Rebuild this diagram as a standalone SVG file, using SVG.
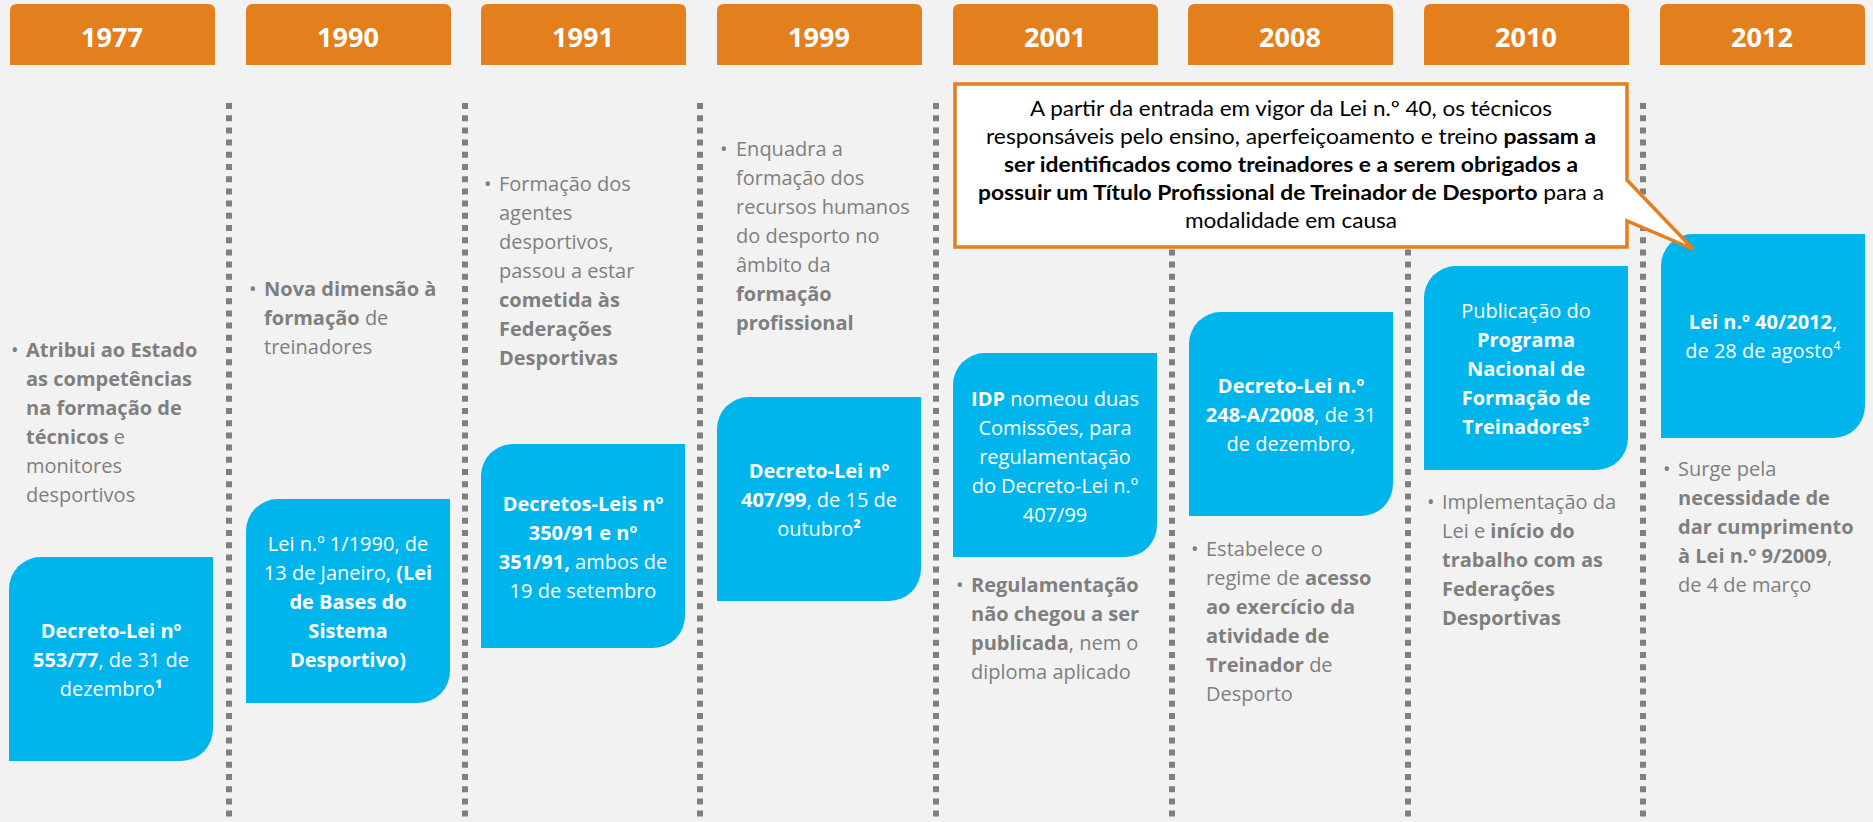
<svg xmlns="http://www.w3.org/2000/svg" xmlns:xlink="http://www.w3.org/1999/xlink" width="1873" height="822" viewBox="0 0 1873 822">
<style>
.yr{font-family:"Open Sans","Noto Sans",sans-serif;font-weight:bold;font-size:27px;fill:#ffffff;text-anchor:middle}
.bt{font-family:"Open Sans","Noto Sans",sans-serif;font-size:20px;fill:#7f7f7f}
.bx{font-family:"Open Sans","Noto Sans",sans-serif;font-size:20px;fill:#ffffff;text-anchor:middle}
.b{font-weight:bold}
.co{font-family:Lato,"Open Sans",sans-serif;font-size:21px;fill:#000000;text-anchor:middle}
.hdr{fill:#e47f1e}
.box{fill:#00b4ec}
.dots{stroke:#7f7f7f;stroke-width:6;stroke-dasharray:6 6.2;fill:none}
</style>
<defs>
<path id="hdr" d="M0,7 Q0,0 7,0 H198 Q205,0 205,7 V61 H0 Z"/>
<path id="box" d="M32,0 H204 V172 A32 32 0 0 1 172,204 H0 V32 A32 32 0 0 1 32,0 Z"/>
</defs>
<rect x="0" y="0" width="1873" height="822" fill="#f2f2f2"/>

<g id="dividers">
<line class="dots" x1="229" y1="103" x2="229" y2="822"/>
<line class="dots" x1="465" y1="103" x2="465" y2="822"/>
<line class="dots" x1="700" y1="103" x2="700" y2="822"/>
<line class="dots" x1="936" y1="103" x2="936" y2="822"/>
<line class="dots" x1="1172" y1="103" x2="1172" y2="822"/>
<line class="dots" x1="1408" y1="103" x2="1408" y2="822"/>
<line class="dots" x1="1643" y1="103" x2="1643" y2="822"/>
</g>

<g id="node-1977">
<use href="#hdr" x="10" y="4" class="hdr"/>
<text class="yr" x="112" y="47">1977</text>
<text class="bt"><tspan x="11" y="357">•</tspan><tspan x="26" y="357" class="b">Atribui ao Estado</tspan><tspan x="26" y="386" class="b">as competências</tspan><tspan x="26" y="415" class="b">na formação de</tspan><tspan x="26" y="444"><tspan class="b">técnicos</tspan> e</tspan><tspan x="26" y="473">monitores</tspan><tspan x="26" y="502">desportivos</tspan></text>
<use href="#box" x="9" y="557" class="box"/>
<text class="bx"><tspan x="111" y="638" class="b">Decreto-Lei nº</tspan><tspan x="111" y="667"><tspan class="b">553/77</tspan>, de 31 de</tspan><tspan x="111" y="696">dezembro<tspan class="b">¹</tspan></tspan></text>
</g>

<g id="node-1990">
<use href="#hdr" x="246" y="4" class="hdr"/>
<text class="yr" x="348" y="47">1990</text>
<text class="bt"><tspan x="249" y="296">•</tspan><tspan x="264" y="296" class="b">Nova dimensão à</tspan><tspan x="264" y="325"><tspan class="b">formação</tspan> de</tspan><tspan x="264" y="354">treinadores</tspan></text>
<use href="#box" x="246" y="499" class="box"/>
<text class="bx"><tspan x="348" y="551">Lei n.º 1/1990, de</tspan><tspan x="348" y="580">13 de Janeiro, <tspan class="b">(Lei</tspan></tspan><tspan x="348" y="609" class="b">de Bases do</tspan><tspan x="348" y="638" class="b">Sistema</tspan><tspan x="348" y="667" class="b">Desportivo)</tspan></text>
</g>

<g id="node-1991">
<use href="#hdr" x="481" y="4" class="hdr"/>
<text class="yr" x="583" y="47">1991</text>
<text class="bt"><tspan x="484" y="191">•</tspan><tspan x="499" y="191">Formação dos</tspan><tspan x="499" y="220">agentes</tspan><tspan x="499" y="249">desportivos,</tspan><tspan x="499" y="278">passou a estar</tspan><tspan x="499" y="307" class="b">cometida às</tspan><tspan x="499" y="336" class="b">Federações</tspan><tspan x="499" y="365" class="b">Desportivas</tspan></text>
<use href="#box" x="481" y="444" class="box"/>
<text class="bx"><tspan x="583" y="511" class="b">Decretos-Leis nº</tspan><tspan x="583" y="540" class="b">350/91 e nº</tspan><tspan x="583" y="569"><tspan class="b">351/91,</tspan> ambos de</tspan><tspan x="583" y="598">19 de setembro</tspan></text>
</g>

<g id="node-1999">
<use href="#hdr" x="717" y="4" class="hdr"/>
<text class="yr" x="819" y="47">1999</text>
<text class="bt"><tspan x="720" y="156">•</tspan><tspan x="736" y="156">Enquadra a</tspan><tspan x="736" y="185">formação dos</tspan><tspan x="736" y="214">recursos humanos</tspan><tspan x="736" y="243">do desporto no</tspan><tspan x="736" y="272">âmbito da</tspan><tspan x="736" y="301" class="b">formação</tspan><tspan x="736" y="330" class="b">profissional</tspan></text>
<use href="#box" x="717" y="397" class="box"/>
<text class="bx"><tspan x="819" y="478" class="b">Decreto-Lei nº</tspan><tspan x="819" y="507"><tspan class="b">407/99</tspan>, de 15 de</tspan><tspan x="819" y="536">outubro<tspan class="b">²</tspan></tspan></text>
</g>

<g id="node-2001">
<use href="#hdr" x="953" y="4" class="hdr"/>
<text class="yr" x="1055" y="47">2001</text>
<use href="#box" x="953" y="353" class="box"/>
<text class="bx"><tspan x="1055" y="406"><tspan class="b">IDP</tspan> nomeou duas</tspan><tspan x="1055" y="435">Comissões, para</tspan><tspan x="1055" y="464">regulamentação</tspan><tspan x="1055" y="493">do Decreto-Lei n.º</tspan><tspan x="1055" y="522">407/99</tspan></text>
<text class="bt"><tspan x="956" y="592">•</tspan><tspan x="971" y="592" class="b">Regulamentação</tspan><tspan x="971" y="621" class="b">não chegou a ser</tspan><tspan x="971" y="650"><tspan class="b">publicada</tspan>, nem o</tspan><tspan x="971" y="679">diploma aplicado</tspan></text>
</g>

<g id="node-2008">
<use href="#hdr" x="1188" y="4" class="hdr"/>
<text class="yr" x="1290" y="47">2008</text>
<use href="#box" x="1189" y="312" class="box"/>
<text class="bx"><tspan x="1291" y="393" class="b">Decreto-Lei n.º</tspan><tspan x="1291" y="422"><tspan class="b">248-A/2008</tspan>, de 31</tspan><tspan x="1291" y="451">de dezembro,</tspan></text>
<text class="bt"><tspan x="1191" y="556">•</tspan><tspan x="1206" y="556">Estabelece o</tspan><tspan x="1206" y="585">regime de <tspan class="b">acesso</tspan></tspan><tspan x="1206" y="614" class="b">ao exercício da</tspan><tspan x="1206" y="643" class="b">atividade de</tspan><tspan x="1206" y="672"><tspan class="b">Treinador</tspan> de</tspan><tspan x="1206" y="701">Desporto</tspan></text>
</g>

<g id="node-2010">
<use href="#hdr" x="1424" y="4" class="hdr"/>
<text class="yr" x="1526" y="47">2010</text>
<use href="#box" x="1424" y="266" class="box"/>
<text class="bx"><tspan x="1526" y="318">Publicação do</tspan><tspan x="1526" y="347" class="b">Programa</tspan><tspan x="1526" y="376" class="b">Nacional de</tspan><tspan x="1526" y="405" class="b">Formação de</tspan><tspan x="1526" y="434" class="b">Treinadores³</tspan></text>
<text class="bt"><tspan x="1427" y="509">•</tspan><tspan x="1442" y="509">Implementação da</tspan><tspan x="1442" y="538">Lei e <tspan class="b">início do</tspan></tspan><tspan x="1442" y="567" class="b">trabalho com as</tspan><tspan x="1442" y="596" class="b">Federações</tspan><tspan x="1442" y="625" class="b">Desportivas</tspan></text>
</g>

<g id="node-2012">
<use href="#hdr" x="1660" y="4" class="hdr"/>
<text class="yr" x="1762" y="47">2012</text>
<use href="#box" x="1661" y="234" class="box"/>
<text class="bx"><tspan x="1763" y="329"><tspan class="b">Lei n.º 40/2012</tspan>,</tspan><tspan x="1763" y="358">de 28 de agosto<tspan font-size="13" dy="-8">4</tspan></tspan></text>
<text class="bt"><tspan x="1663" y="476">•</tspan><tspan x="1678" y="476">Surge pela</tspan><tspan x="1678" y="505" class="b">necessidade de</tspan><tspan x="1678" y="534" class="b">dar cumprimento</tspan><tspan x="1678" y="563"><tspan class="b">à Lei n.º 9/2009</tspan>,</tspan><tspan x="1678" y="592">de 4 de março</tspan></text>
</g>

<g id="callout">
<path d="M955,84 H1627 V180 L1693,249 L1627,221 V247 H955 Z" fill="#ffffff" stroke="#e47f1e" stroke-width="3.5" stroke-linejoin="miter"/>
<text class="co" x="1291" y="116" textLength="522" lengthAdjust="spacingAndGlyphs">A partir da entrada em vigor da Lei n.º 40, os técnicos</text>
<text class="co" x="1291" y="144" textLength="610" lengthAdjust="spacingAndGlyphs">responsáveis pelo ensino, aperfeiçoamento e treino  <tspan class="b">passam a</tspan></text>
<text class="co b" x="1291" y="172" textLength="574" lengthAdjust="spacingAndGlyphs">ser identificados como treinadores e a serem obrigados a</text>
<text class="co" x="1291" y="200" textLength="626" lengthAdjust="spacingAndGlyphs"><tspan class="b">possuir um Título Profissional de Treinador de Desporto</tspan> para a</text>
<text class="co" x="1291" y="228" textLength="212" lengthAdjust="spacingAndGlyphs">modalidade em causa</text>
</g>
</svg>
